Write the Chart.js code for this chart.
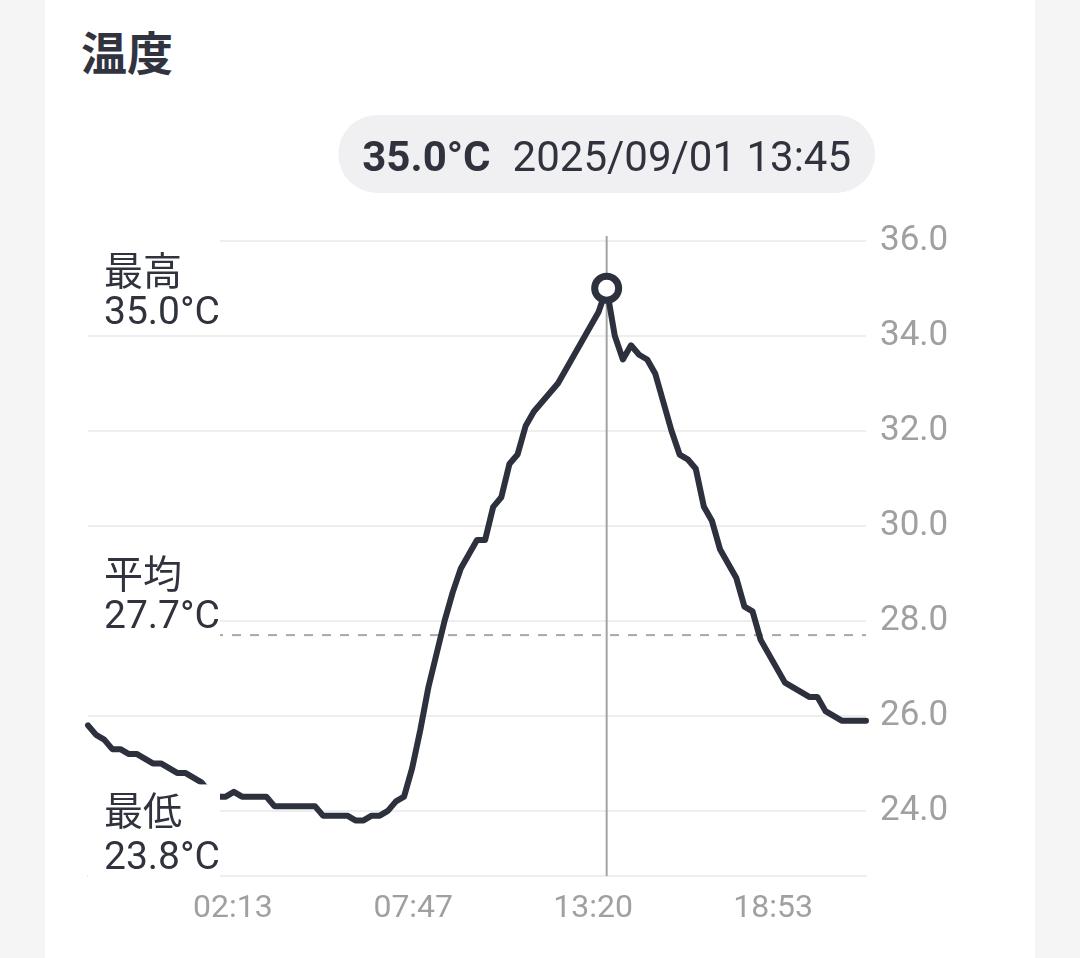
<!DOCTYPE html>
<html lang="ja">
<head>
<meta charset="utf-8">
<title>温度</title>
<script src="https://cdn.jsdelivr.net/npm/chart.js@4/dist/chart.umd.min.js"></script>
<style>
  html, body { margin: 0; padding: 0; background: #f5f5f5; }
  body { width: 1080px; height: 958px; position: relative; overflow: hidden; }
  .card {
    position: absolute; left: 45px; top: -30px; width: 990px; height: 1100px;
    background: #fff; border-radius: 32px;
  }
  .title {
    position: absolute; left: 81px; top: 27px; margin: 0;
    font: 700 46px/1 "Noto Sans CJK JP", sans-serif; color: #31343f;
  }
  #chart { position: absolute; left: 0; top: 0; }
</style>
</head>
<body>
<div class="card"></div>
<h1 class="title">温度</h1>
<canvas id="chart" width="1080" height="958"></canvas>
<script>
(function () {
  "use strict";

  // 15-minute readings, 08/31 21:45 -> 09/01 21:45
  const TIMES = [
    "21:45",
    "22:00", "22:15", "22:30", "22:45",
    "23:00", "23:15", "23:30", "23:45",
    "00:00", "00:15", "00:30", "00:45",
    "01:00", "01:15", "01:30", "01:45",
    "02:00", "02:15", "02:30", "02:45",
    "03:00", "03:15", "03:30", "03:45",
    "04:00", "04:15", "04:30", "04:45",
    "05:00", "05:15", "05:30", "05:45",
    "06:00", "06:15", "06:30", "06:45",
    "07:00", "07:15", "07:30", "07:45",
    "08:00", "08:15", "08:30", "08:45",
    "09:00", "09:15", "09:30", "09:45",
    "10:00", "10:15", "10:30", "10:45",
    "11:00", "11:15", "11:30", "11:45",
    "12:00", "12:15", "12:30", "12:45",
    "13:00", "13:15", "13:30", "13:45",
    "14:00", "14:15", "14:30", "14:45",
    "15:00", "15:15", "15:30", "15:45",
    "16:00", "16:15", "16:30", "16:45",
    "17:00", "17:15", "17:30", "17:45",
    "18:00", "18:15", "18:30", "18:45",
    "19:00", "19:15", "19:30", "19:45",
    "20:00", "20:15", "20:30", "20:45",
    "21:00", "21:15", "21:30", "21:45"
  ];
  const TEMPS = [
    25.8,
    25.6, 25.5, 25.3, 25.3,
    25.2, 25.2, 25.1, 25.0,
    25.0, 24.9, 24.8, 24.8,
    24.7, 24.6, 24.4, 24.3,
    24.3, 24.4, 24.3, 24.3,
    24.3, 24.3, 24.1, 24.1,
    24.1, 24.1, 24.1, 24.1,
    23.9, 23.9, 23.9, 23.9,
    23.8, 23.8, 23.9, 23.9,
    24.0, 24.2, 24.3, 24.9,
    25.7, 26.6, 27.3, 28.0,
    28.6, 29.1, 29.4, 29.7,
    29.7, 30.4, 30.6, 31.3,
    31.5, 32.1, 32.4, 32.6,
    32.8, 33.0, 33.3, 33.6,
    33.9, 34.2, 34.5, 35.0,
    34.0, 33.5, 33.8, 33.6,
    33.5, 33.2, 32.6, 32.0,
    31.5, 31.4, 31.2, 30.4,
    30.1, 29.5, 29.2, 28.9,
    28.3, 28.2, 27.6, 27.3,
    27.0, 26.7, 26.6, 26.5,
    26.4, 26.4, 26.1, 26.0,
    25.9, 25.9, 25.9, 25.9
  ];
  const X_TICK_LABELS = ["02:13", "07:47", "13:20", "18:53"];
  const Y_TICKS = [24, 26, 28, 30, 32, 34, 36];
  const SELECTED_TIME = "13:45";
  const SELECTED_DATE = "2025/09/01";
  const STAT_NAMES = ["最高", "平均", "最低"];

  const LINE_COLOR = "#2d303d";
  const TEXT_COLOR = "#30333e";
  const GRID_COLOR = "#eeeeee";
  const TICK_COLOR = "#a0a0a0";
  const FONT = "Roboto, 'Noto Sans CJK JP', sans-serif";

  function toMinutes(s) {
    const p = s.split(":");
    return Number(p[0]) * 60 + Number(p[1]);
  }

  // minutes relative to 09/01 00:00 (first readings belong to the day before)
  let offset = -1440;
  let prev = -1;
  const xs = TIMES.map(function (s) {
    const m = toMinutes(s);
    if (m < prev) offset += 1440;
    prev = m;
    return m + offset;
  });
  const points = xs.map(function (x, i) { return { x: x, y: TEMPS[i] }; });
  const selIdx = TIMES.lastIndexOf(SELECTED_TIME);

  const maxT = Math.max.apply(null, TEMPS);
  const minT = Math.min.apply(null, TEMPS);
  const avgT = TEMPS.reduce(function (a, b) { return a + b; }, 0) / TEMPS.length;
  const STAT_VALUES = [maxT, avgT, minT];

  function fmtMinutes(v) {
    const m = ((Math.round(v) % 1440) + 1440) % 1440;
    return String(Math.floor(m / 60)).padStart(2, "0") + ":" + String(m % 60).padStart(2, "0");
  }

  // label block layout: [name center, value center, box top, box bottom] relative to value y
  const STAT_LAYOUT = [
    [-18, 22, -57, 45],
    [-62, -21, -100, 5],
    [-10, 34.5, -36, 58]
  ];

  const overlay = {
    id: "overlay",
    beforeDatasetsDraw: function (chart) {
      const ctx = chart.ctx;
      const a = chart.chartArea;
      const y = chart.scales.y;
      const px = chart.getDatasetMeta(0).data[selIdx].x;
      ctx.save();
      ctx.lineWidth = 2;
      ctx.strokeStyle = "#a8a8a8";
      ctx.setLineDash([9, 9]);
      const ay = y.getPixelForValue(Math.round(avgT * 10) / 10);
      ctx.beginPath();
      ctx.moveTo(a.left, ay);
      ctx.lineTo(a.right, ay);
      ctx.stroke();
      ctx.setLineDash([]);
      ctx.strokeStyle = "#a3a3a3";
      ctx.beginPath();
      ctx.moveTo(px, a.top);
      ctx.lineTo(px, a.bottom);
      ctx.stroke();
      ctx.restore();
    },
    afterDatasetsDraw: function (chart) {
      const ctx = chart.ctx;
      const a = chart.chartArea;
      const y = chart.scales.y;
      const size = 39;
      ctx.save();
      ctx.font = size + "px " + FONT;
      STAT_NAMES.forEach(function (name, i) {
        const v = STAT_VALUES[i];
        const vy = y.getPixelForValue(Math.round(v * 10) / 10);
        const lay = STAT_LAYOUT[i];
        const valText = v.toFixed(1) + "°C";
        const w = Math.max(ctx.measureText(name).width, ctx.measureText(valText).width);
        ctx.fillStyle = "#ffffff";
        ctx.fillRect(a.left, vy + lay[2], 16 + w, lay[3] - lay[2]);
        ctx.fillStyle = TEXT_COLOR;
        ctx.textBaseline = "alphabetic";
        ctx.textAlign = "left";
        ctx.fillText(name, a.left + 16, vy + lay[0] + 0.375 * size);
        ctx.fillText(valText, a.left + 16, vy + lay[1] + 0.355 * size);
      });
      ctx.restore();
    },
    afterDraw: function (chart) {
      const ctx = chart.ctx;
      const px = chart.getDatasetMeta(0).data[selIdx].x;
      const size = 42;
      const boldText = TEMPS[selIdx].toFixed(1) + "°C";
      const regText = SELECTED_DATE + " " + SELECTED_TIME;
      ctx.save();
      ctx.font = "700 " + size + "px " + FONT;
      const bw = ctx.measureText(boldText).width;
      ctx.font = size + "px " + FONT;
      const rw = ctx.measureText(regText).width;
      const w = 24 + bw + 22 + rw + 24;
      const h = 78, top = 115, left = px - w / 2;
      ctx.fillStyle = "#f0f0f2";
      ctx.beginPath();
      ctx.roundRect(left, top, w, h, h / 2);
      ctx.fill();
      ctx.fillStyle = TEXT_COLOR;
      ctx.textBaseline = "alphabetic";
      ctx.textAlign = "left";
      ctx.font = "700 " + size + "px " + FONT;
      ctx.fillText(boldText, left + 24, 171);
      ctx.font = size + "px " + FONT;
      ctx.fillText(regText, left + 24 + bw + 22, 171);
      ctx.restore();
    }
  };

  new Chart(document.getElementById("chart"), {
    type: "line",
    data: {
      datasets: [{
        data: points,
        borderColor: LINE_COLOR,
        borderWidth: 6,
        borderJoinStyle: "round",
        borderCapStyle: "round",
        tension: 0,
        fill: false,
        pointRadius: function (c) { return c.dataIndex === selIdx ? 12 : 0; },
        pointBorderWidth: 7,
        pointBorderColor: LINE_COLOR,
        pointBackgroundColor: "#ffffff",
        clip: false
      }]
    },
    options: {
      responsive: false,
      animation: false,
      events: [],
      layout: { padding: { left: 88, top: 236, right: 0, bottom: 0 } },
      plugins: { legend: { display: false }, tooltip: { enabled: false } },
      scales: {
        x: {
          type: "linear",
          min: xs[0],
          max: xs[xs.length - 1],
          grid: { display: false, drawTicks: false },
          border: { display: true, color: GRID_COLOR, width: 2 },
          afterBuildTicks: function (s) {
            s.ticks = X_TICK_LABELS.map(function (t) { return { value: toMinutes(t) }; });
          },
          afterFit: function (s) { s.height = 82; },
          ticks: {
            color: TICK_COLOR,
            font: { family: FONT, size: 32 },
            padding: 14,
            maxRotation: 0,
            autoSkip: false,
            callback: function (v) { return fmtMinutes(v); }
          }
        },
        y: {
          position: "right",
          min: 22.63,
          max: 36.1,
          grid: { color: GRID_COLOR, lineWidth: 2, drawTicks: false },
          border: { display: false },
          afterBuildTicks: function (s) {
            s.ticks = Y_TICKS.map(function (v) { return { value: v }; });
          },
          afterFit: function (s) { s.width = 214; },
          ticks: {
            color: TICK_COLOR,
            font: { family: FONT, size: 35 },
            padding: 14,
            callback: function (v) { return Number(v).toFixed(1); }
          }
        }
      }
    },
    plugins: [overlay]
  });
})();
</script>
</body>
</html>
